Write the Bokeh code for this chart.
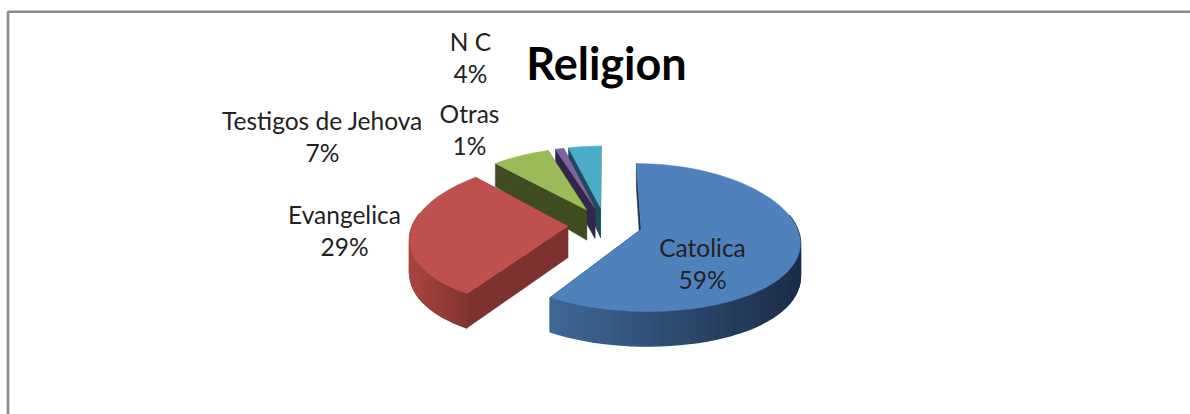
import math

from bokeh.core.properties import value
from bokeh.embed import file_html
from bokeh.models import Range1d
from bokeh.plotting import figure
from bokeh.resources import INLINE

# Survey shares by religion, clockwise from twelve o'clock
categories = ["Catolica", "Evangelica", "Testigos de Jehova", "Otras", "N C"]
shares = [59, 29, 7, 1, 4]
top_colors = ["#4f81bd", "#c0504d", "#9bbb59", "#8064a2", "#4bacc6"]
wall_colors = ["#1f3350", "#7d322f", "#3f4c20", "#32264a", "#1f4c5c"]
rim_light = ["#3f6896", "#a8453f", "#4f6028", "#3f3060", "#27606f"]
rim_dark = ["#1b2d47", "#7d322f", "#3f4c20", "#32264a", "#1f4c5c"]

label_anchor = [(702, 264), (344, 231), (322, 137), (469, 130), (470, 58)]

CX, CY = 604.5, 224.0
RX, RY = 155.0, 72.0
PERSP_X, PERSP_Y = 0.15, 0.11
EXPLODE = 0.24
N_STEPS = 60


def project(u, v):
    """World point on the pie's top plane to canvas pixels."""
    return CX + RX * u / (1 + PERSP_X * v), CY - RY * v / (1 + PERSP_Y * v)


def drop(v):
    """Apparent rim height for a point at depth v."""
    return 31.5 - 6 * v - 3 * v * v


def mix(a, b, t):
    ca = [int(a[i:i + 2], 16) for i in (1, 3, 5)]
    cb = [int(b[i:i + 2], 16) for i in (1, 3, 5)]
    return "#%02x%02x%02x" % tuple(round(x + (y - x) * t) for x, y in zip(ca, cb))


p = figure(width=1190, height=414, output_backend="svg", toolbar_location=None,
           x_range=Range1d(0, 1190), y_range=Range1d(414, 0), min_border=0,
           outline_line_color=None, background_fill_color="white", border_fill_color="white")
p.axis.visible = False
p.grid.visible = False

# Chart-area frame: left and top edges stay inside the crop
p.line([7.5, 7.5, 1190], [414, 11.3, 11.3], line_color="#8c8c8c", line_width=2.6)

total = sum(shares)
spans = []
start = 0.0
for s in shares:
    end = start + s / total * 2 * math.pi
    spans.append((start, end))
    start = end

# Painter's order: farthest wedges first
for i in [4, 3, 2, 1, 0]:
    a0, a1 = spans[i]
    mid = (a0 + a1) / 2
    ou, ov = EXPLODE * math.sin(mid), EXPLODE * math.cos(mid)
    n = max(4, int(N_STEPS * (a1 - a0) / math.pi))
    angles = [a0 + (a1 - a0) * k / n for k in range(n + 1)]
    world = [(ou + math.sin(a), ov + math.cos(a)) for a in angles]
    rim = [project(u, v) for u, v in world]
    low = [(x, y + drop(v)) for (x, y), (u, v) in zip(rim, world)]
    ax, ay = project(ou, ov)
    ah = ay + drop(ov)

    # Flat faces along both straight edges
    for (x, y), (xl, yl) in ((rim[0], low[0]), (rim[-1], low[-1])):
        p.patch([ax, x, xl, ax], [ay, y, yl, ah], fill_color=wall_colors[i],
                line_color=wall_colors[i], line_width=0.5)

    # Curved rim, only its camera-facing part, shaded in narrow strips
    xs_all = [pt[0] for pt in rim]
    xmin, xmax = min(xs_all), max(xs_all)
    for k in range(n):
        if world[k][1] > 0.1 and world[k + 1][1] > 0.1:
            continue
        tone = (rim[k][0] + rim[k + 1][0]) / 2
        t = (tone - xmin) / (xmax - xmin or 1)
        c = mix(rim_light[i], rim_dark[i], t)
        p.patch([rim[k][0], rim[k + 1][0], low[k + 1][0], low[k][0]],
                [rim[k][1], rim[k + 1][1], low[k + 1][1], low[k][1]],
                fill_color=c, line_color=c, line_width=1.5)

    # Top face
    p.patch([ax] + [q[0] for q in rim], [ay] + [q[1] for q in rim],
            fill_color=top_colors[i], line_color=top_colors[i], line_width=0.5)

# Data labels: category name over rounded percentage
for name, share, (lx, ly) in zip(categories, shares, label_anchor):
    p.text([lx, lx], [ly - 17, ly + 15], text=[name, f"{share}%"],
           text_font=value("Lato"), text_font_size="24.5px", text_color="#222222",
           text_align="center", text_baseline="middle")

p.text([606], [62], text=["Religion"], text_font=value("Lato"), text_font_style="bold",
       text_font_size="45px", text_color="#000000", text_align="center", text_baseline="middle")

open("out.html", "w").write(file_html(p, INLINE))
